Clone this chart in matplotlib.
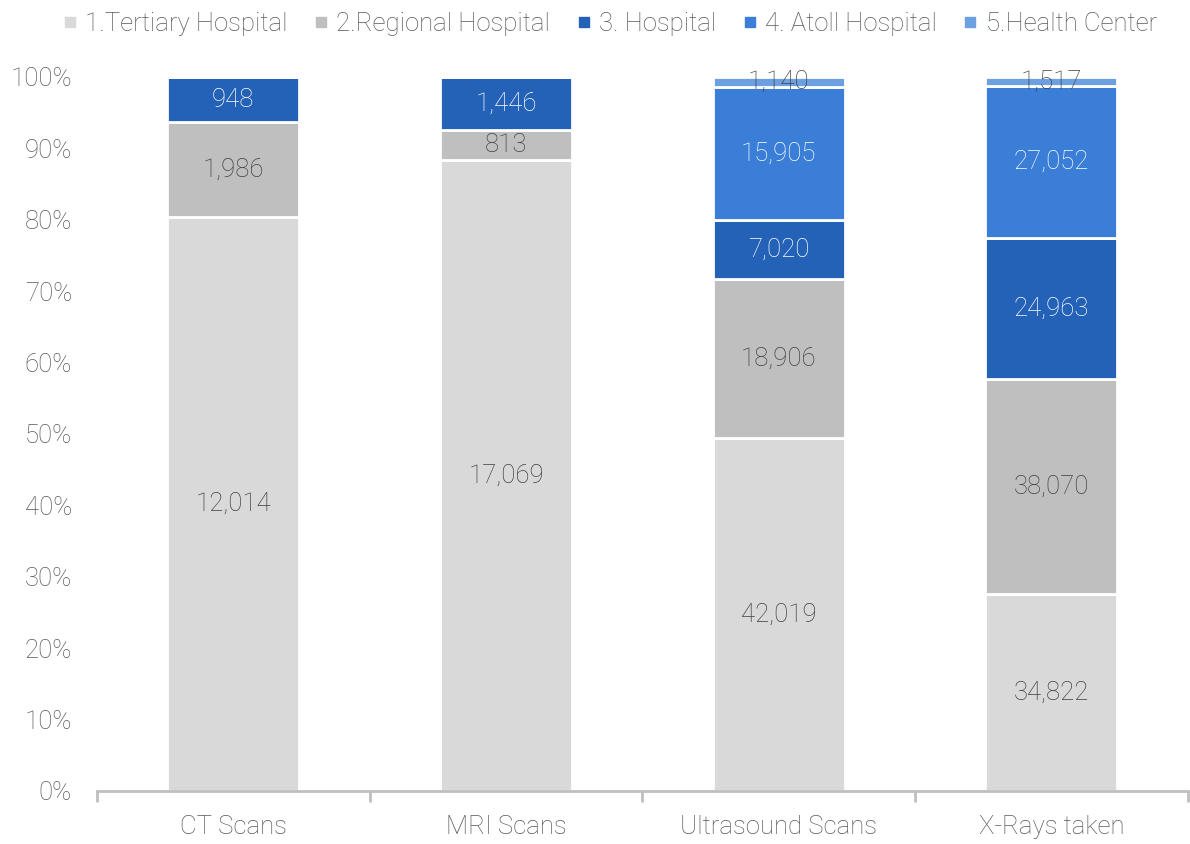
import matplotlib.pyplot as plt
import numpy as np
from matplotlib.lines import Line2D
from matplotlib.ticker import PercentFormatter

plt.rcParams['font.family'] = ['Roboto', 'DejaVu Sans']

categories = ["CT Scans", "MRI Scans", "Ultrasound Scans", "X-Rays taken"]
series = ["1.Tertiary Hospital", "2.Regional Hospital", "3. Hospital",
          "4. Atoll Hospital", "5.Health Center"]
tertiary = [12014, 17069, 42019, 34822]
regional = [1986, 813, 18906, 38070]
hospital = [948, 1446, 7020, 24963]
atoll = [0, 0, 15905, 27052]
health = [0, 0, 1140, 1517]

colors = ["#D9D9D9", "#BFBFBF", "#2462B7", "#3A7ED7", "#6CA0E1"]
txtcol = ["#404040", "#404040", "white", "white", "#404040"]
fs = 18.5

data = np.array([tertiary, regional, hospital, atoll, health], dtype=float)
totals = data.sum(axis=0)
shares = data / totals

fig = plt.figure(figsize=(11.9, 8.44), dpi=100)
ax = fig.add_axes([0.0815, 0.0628, 0.9165, 0.846])

x = np.arange(len(categories))
bottom = np.zeros(len(categories))
for k in range(len(series)):
    ax.bar(x, shares[k], 0.485, bottom=bottom, color=colors[k],
           edgecolor="white", linewidth=2, label=series[k])
    for i in range(len(categories)):
        if data[k, i] > 0:
            ax.text(x[i], bottom[i] + shares[k, i] / 2, f"{int(data[k, i]):,}",
                    ha="center", va="center", fontsize=fs, fontweight="light",
                    color=txtcol[k])
    bottom += shares[k]

ax.set_xlim(-0.5, 3.5)
ax.set_ylim(0, 1.0)
ax.yaxis.set_major_formatter(PercentFormatter(1.0, decimals=0))
ax.set_yticks(np.arange(0, 1.01, 0.1))
ax.tick_params(axis="y", length=0, labelsize=fs, labelcolor="#595959", pad=18)
for lab in ax.get_yticklabels():
    lab.set_fontweight("light")

ax.set_xticks(x)
ax.set_xticklabels(categories, fontsize=fs, fontweight="light", color="#595959")
ax.set_xticks(np.arange(-0.5, 3.6, 1), minor=True)
ax.tick_params(axis="x", which="major", length=0, pad=17)
ax.tick_params(axis="x", which="minor", length=8, width=2, color="#BFBFBF")

for s in ["top", "right", "left"]:
    ax.spines[s].set_visible(False)
ax.spines["bottom"].set_color("#BFBFBF")
ax.spines["bottom"].set_linewidth(2)

handles = [Line2D([], [], marker="s", linestyle="none", markersize=7,
                  markerfacecolor=c, markeredgecolor=c) for c in colors]
leg = fig.legend(handles, series, loc="upper center", bbox_to_anchor=(0.51, 1.013),
                 ncol=5, frameon=False, fontsize=fs, handletextpad=0.1,
                 columnspacing=0.8, handlelength=1.0)
for t in leg.get_texts():
    t.set_color("#595959")
    t.set_fontweight("light")

fig.savefig("out.png", dpi=100)
